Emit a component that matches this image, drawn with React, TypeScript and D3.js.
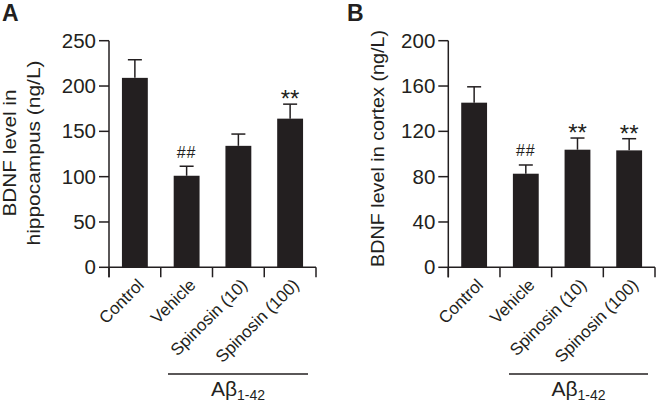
import React from "react";
import * as d3 from "d3";

const categories = ["Control", "Vehicle", "Spinosin (10)", "Spinosin (100)"];

const hippoMeans = [209, 101, 134, 164];
const hippoSem = [20, 10.5, 13, 16];
const hippoMarks = ["", "##", "", "**"];
const hippoTicks = [0, 50, 100, 150, 200, 250];

const cortexMeans = [145.3, 82.6, 103.8, 103.2];
const cortexSem = [14, 7.7, 10.3, 10.3];
const cortexMarks = ["", "##", "**", "**"];
const cortexTicks = [0, 40, 80, 120, 160, 200];

const INK = "#231f20";
const FONT = "'Liberation Sans', Arial, Helvetica, sans-serif";

type PanelProps = {
  letter: string;
  letterX: number;
  x0: number;
  x1: number;
  yMax: number;
  ticks: number[];
  means: number[];
  sems: number[];
  marks: string[];
  titleLines: string[];
  titleLens: number[];
  titleX: number[];
  titleY: number;
  bracket: [number, number];
};

function Panel(p: PanelProps) {
  const yBottom = 267.3;
  const yTop = 40.7;
  const y = d3.scaleLinear().domain([0, p.yMax]).range([yBottom, yTop]);
  const x = d3
    .scaleBand<string>()
    .domain(categories)
    .range([p.x0, p.x1])
    .paddingInner(0.5)
    .paddingOuter(0.25);
  const step = x.step();
  const bw = x.bandwidth();
  const capW = 14;
  const boundaries = d3.range(categories.length + 1).map((i) => p.x0 + i * step);

  return (
    <g fontFamily={FONT} fill={INK}>
      <text x={p.letterX} y={21} fontSize={23} fontWeight="bold">
        {p.letter}
      </text>
      {/* y title */}
      {p.titleLines.map((t, i) => (
        <text
          key={t}
          transform={`translate(${p.titleX[i]},${p.titleY}) rotate(-90)`}
          textAnchor="middle"
          fontSize={18.5}
          textLength={p.titleLens[i]}
          lengthAdjust="spacingAndGlyphs"
        >
          {t}
        </text>
      ))}
      {/* y axis */}
      <line x1={p.x0} x2={p.x0} y1={yTop} y2={yBottom + 10} stroke={INK} strokeWidth={1.5} />
      {p.ticks.map((t) => (
        <g key={t}>
          <line x1={p.x0 - 10} x2={p.x0} y1={y(t)} y2={y(t)} stroke={INK} strokeWidth={1.5} />
          <text x={p.x0 - 13} y={y(t) + 7} textAnchor="end" fontSize={20.5}>
            {t}
          </text>
        </g>
      ))}
      {/* x axis */}
      <line x1={p.x0} x2={p.x1} y1={yBottom} y2={yBottom} stroke={INK} strokeWidth={1.5} />
      {boundaries.map((b, i) => (
        <line key={i} x1={b} x2={b} y1={yBottom} y2={yBottom + 10} stroke={INK} strokeWidth={1.5} />
      ))}
      {/* bars */}
      {categories.map((c, i) => {
        const cx = (x(c) as number) + bw / 2;
        const top = y(p.means[i] + p.sems[i]);
        return (
          <g key={c}>
            <line x1={cx} x2={cx} y1={y(p.means[i])} y2={top} stroke={INK} strokeWidth={1.5} />
            <line x1={cx - capW / 2} x2={cx + capW / 2} y1={top} y2={top} stroke={INK} strokeWidth={1.5} />
            <rect x={x(c)} y={y(p.means[i])} width={bw} height={yBottom - y(p.means[i])} fill={INK} />
            {p.marks[i] === "##" && (
              <text x={cx} y={top - 8.5} textAnchor="middle" fontSize={16} letterSpacing={1}>
                ##
              </text>
            )}
            {p.marks[i] === "**" && (
              <text x={cx} y={top + 3} textAnchor="middle" fontSize={24}>
                **
              </text>
            )}
            <text
              transform={`translate(${cx + 10},${286}) rotate(-45)`}
              textAnchor="end"
              fontSize={17}
            >
              {c}
            </text>
          </g>
        );
      })}
      {/* bracket */}
      <line x1={p.bracket[0]} x2={p.bracket[1]} y1={374} y2={374} stroke={INK} strokeWidth={1.5} />
      <text x={(p.bracket[0] + p.bracket[1]) / 2} y={396} textAnchor="middle" fontSize={21}>
        Aβ
        <tspan fontSize={14} dy={4}>
          1-42
        </tspan>
      </text>
    </g>
  );
}

export default function App() {
  return (
    <svg
      width={657}
      height={404}
      style={{ position: "absolute", left: 0, top: 0, background: "#fff" }}
    >
      <rect width={657} height={404} fill="#fff" />
      <Panel
        letter="A"
        letterX={2}
        x0={109}
        x1={316}
        yMax={250}
        ticks={hippoTicks}
        means={hippoMeans}
        sems={hippoSem}
        marks={hippoMarks}
        titleLines={["BDNF level in", "hippocampus (ng/L)"]}
        titleLens={[127, 185]}
        titleX={[16, 40]}
        titleY={153}
        bracket={[168, 308]}
      />
      <Panel
        letter="B"
        letterX={347}
        x0={448.3}
        x1={655}
        yMax={200}
        ticks={cortexTicks}
        means={cortexMeans}
        sems={cortexSem}
        marks={cortexMarks}
        titleLines={["BDNF level in cortex (ng/L)"]}
        titleLens={[237]}
        titleX={[384]}
        titleY={148.5}
        bracket={[509, 648]}
      />
    </svg>
  );
}
